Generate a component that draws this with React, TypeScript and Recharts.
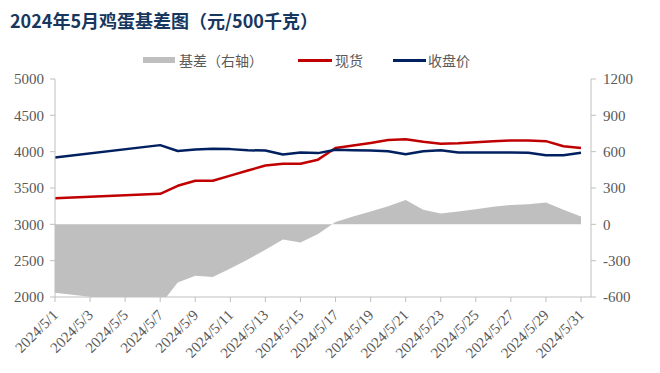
import React from 'react';
import { ComposedChart, Area, Line, XAxis, YAxis } from 'recharts';

const dates = [
  '2024/5/1', '2024/5/2', '2024/5/3', '2024/5/4', '2024/5/5', '2024/5/6', '2024/5/7', '2024/5/8',
  '2024/5/9', '2024/5/10', '2024/5/11', '2024/5/12', '2024/5/13', '2024/5/14', '2024/5/15', '2024/5/16',
  '2024/5/17', '2024/5/18', '2024/5/19', '2024/5/20', '2024/5/21', '2024/5/22', '2024/5/23', '2024/5/24',
  '2024/5/25', '2024/5/26', '2024/5/27', '2024/5/28', '2024/5/29', '2024/5/30', '2024/5/31',
];

const spot = [
  3360, null, null, null, null, null, 3420, 3530, 3600, 3600, 3670, 3740, 3810, 3835, 3835, 3890,
  4050, 4085, 4120, 4160, 4170, 4135, 4110, 4115, 4130, 4145, 4155, 4155, 4145, 4075, 4050,
];

const futures = [
  3920, null, null, null, null, null, 4090, 4010, 4030, 4040, 4035, 4020, 4015, 3960, 3990, 3980,
  4025, 4020, 4015, 4005, 3965, 4005, 4020, 3990, 3990, 3990, 3990, 3985, 3950, 3950, 3985,
];

const basis = [
  -565, null, null, null, null, null, -665, -480, -425, -435, -365, -290, -210, -125, -150, -80,
  20, 65, 105, 150, 200, 120, 90, 105, 125, 145, 160, 165, 180, 120, 65,
];

const leftTicks = [2000, 2500, 3000, 3500, 4000, 4500, 5000];
const rightTicks = [-600, -300, 0, 300, 600, 900, 1200];

const title = '2024年5月鸡蛋基差图（元/500千克）';
const seriesNames = { basis: '基差（右轴）', spot: '现货', futures: '收盘价' };

const data = dates.map((d, i) => ({ date: d, spot: spot[i], futures: futures[i], basis: basis[i] }));

const AXIS = '#BFBFBF';
const TXT = '#595959';
const SERIF = '"Liberation Serif", "Times New Roman", serif';
const CJK = '"Noto Sans CJK SC", "Noto Sans", sans-serif';

const XTick = (props: any) => {
  const { x, y, payload } = props;
  return (
    <text
      transform={`translate(${x + 4}, ${y + 14}) rotate(-45)`}
      textAnchor="end"
      fill={TXT}
      fontSize={15}
      fontFamily={SERIF}
    >
      {payload.value}
    </text>
  );
};

export default function App() {
  return (
    <div style={{ position: 'fixed', left: 0, top: 0, width: 660, height: 373, background: '#fff' }}>
      <div
        style={{
          position: 'absolute', left: 10, top: 9, fontFamily: CJK, fontWeight: 700,
          fontSize: 18, lineHeight: '22px', color: '#17375E', whiteSpace: 'nowrap',
        }}
      >
        {title}
      </div>
      <div style={{ position: 'absolute', left: 143, top: 57, width: 32, height: 6, background: '#BFBFBF' }} />
      <div style={{ position: 'absolute', left: 179, top: 50, fontFamily: CJK, fontSize: 14, lineHeight: '20px', color: TXT }}>
        {seriesNames.basis}
      </div>
      <div style={{ position: 'absolute', left: 298, top: 59, width: 34, height: 2.5, background: '#C00000' }} />
      <div style={{ position: 'absolute', left: 335, top: 50, fontFamily: CJK, fontSize: 14, lineHeight: '20px', color: TXT }}>
        {seriesNames.spot}
      </div>
      <div style={{ position: 'absolute', left: 393, top: 59, width: 33, height: 2.5, background: '#002060' }} />
      <div style={{ position: 'absolute', left: 428, top: 50, fontFamily: CJK, fontSize: 14, lineHeight: '20px', color: TXT }}>
        {seriesNames.futures}
      </div>
      <div style={{ position: 'absolute', left: 0, top: 0 }}>
        <ComposedChart width={660} height={373} data={data} margin={{ top: 79, right: 0, bottom: 6, left: 5 }}>
          <XAxis
            dataKey="date"
            scale="point"
            interval={1}
            padding={{ left: 0, right: 10 }}
            height={70}
            stroke={AXIS}
            tickSize={5}
            tickMargin={0}
            tick={<XTick />}
          />
          <YAxis
            yAxisId="left"
            orientation="left"
            width={50}
            domain={[2000, 5000]}
            ticks={leftTicks}
            stroke={AXIS}
            tickSize={5}
            tickMargin={6}
            tick={{ fill: TXT, fontSize: 15, fontFamily: SERIF }}
          />
          <YAxis
            yAxisId="right"
            orientation="right"
            width={69}
            domain={[-600, 1200]}
            allowDataOverflow
            ticks={rightTicks}
            stroke={AXIS}
            tickSize={5}
            tickMargin={7}
            tick={{ fill: TXT, fontSize: 15, fontFamily: SERIF, textAnchor: 'start' }}
          />
          <Area
            yAxisId="right"
            dataKey="basis"
            type="linear"
            fill="#BFBFBF"
            fillOpacity={1}
            stroke="none"
            connectNulls
            isAnimationActive={false}
            dot={false}
            activeDot={false}
          />
          <Line
            yAxisId="left"
            dataKey="spot"
            type="linear"
            stroke="#C00000"
            strokeWidth={2.5}
            strokeLinejoin="round"
            dot={false}
            activeDot={false}
            connectNulls
            isAnimationActive={false}
          />
          <Line
            yAxisId="left"
            dataKey="futures"
            type="linear"
            stroke="#002060"
            strokeWidth={2.5}
            strokeLinejoin="round"
            dot={false}
            activeDot={false}
            connectNulls
            isAnimationActive={false}
          />
        </ComposedChart>
      </div>
    </div>
  );
}
